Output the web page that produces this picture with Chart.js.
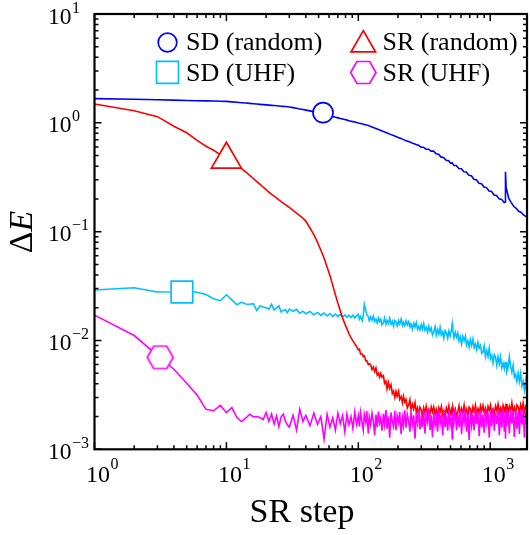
<!DOCTYPE html>
<html><head><meta charset="utf-8">
<script src="https://cdn.jsdelivr.net/npm/chart.js@4.4.1/dist/chart.umd.min.js"></script>
<style>html,body{margin:0;padding:0;background:#fff;overflow:hidden}canvas{display:block}</style>
</head><body>
<canvas id="c" width="530" height="535"></canvas>
<script>
// ---- data ----
// SR steps sampled for the smooth SD (random) curve
const sdSteps = [
  1,2,3,4,5,6,7,8,9,10,
  11,12,13,14,15,16,17,18,19,20,
  21,22,23,24,25,26,27,28,29,30,
  32,34,36,38,40,43,46,49,52,55,
  58,61,64,67,70,73,76,79,82,85,
  88,91,94,97,100,104,108,111,115,119,
  124,130,136,142,148,155,162,169,177,185,
  193,202,211,220,230,240,251,262,274,286,
  299,312,326,341,356,372,389,406,424,443,
  463,484,500,515,530,553,578,604,631,659,
  689,720,752,786,821,858,897,937,979,1023,
  1069,1117,1167,1220,1275,1300,1305,1320,1380,1440,
  1505,1573,1644,1718,1795,1900
];
const sdRandom = [
  1.67,1.645,1.628,1.615,1.605,1.597,1.59,1.585,1.58,1.575,
  1.559,1.545,1.531,1.519,1.508,1.498,1.488,1.479,1.470,1.462,
  1.455,1.448,1.441,1.434,1.428,1.422,1.416,1.411,1.405,1.400,
  1.379,1.360,1.341,1.325,1.309,1.287,1.267,1.248,1.231,1.211,
  1.186,1.163,1.142,1.125,1.110,1.096,1.083,1.071,1.059,1.047,
  1.036,1.026,1.016,1.007,0.997,0.986,0.975,0.967,0.956,0.945,
  0.926,0.905,0.886,0.867,0.850,0.831,0.814,0.797,0.779,0.763,
  0.747,0.731,0.716,0.701,0.686,0.672,0.658,0.644,0.631,0.622,
  0.598,0.597,0.573,0.572,0.549,0.550,0.520,0.514,0.484,0.481,
  0.452,0.449,0.426,0.428,0.406,0.405,0.380,0.379,0.355,0.354,
  0.329,0.326,0.303,0.300,0.278,0.276,0.257,0.254,0.236,0.234,
  0.217,0.215,0.200,0.198,0.185,0.187,0.355,0.255,0.203,0.186,
  0.171,0.164,0.154,0.150,0.142,0.136
];
// SR steps sampled for the three noisy curves
const steps = [
  1,2,3,4,5,6,7,8,9,10,
  11,12,13,14,15,16,17,18,19,20,
  21,22,23,24,25,26,27,28,29,30,
  32,34,36,38,40,43,46,49,52,55,
  58,61,64,67,70,73,76,79,82,85,
  88,91,94,97,
  100,102,104,107,109,111,114,116,119,121,
  124,127,130,133,136,139,142,145,148,151,
  155,158,162,165,169,173,177,181,185,189,
  193,197,202,206,211,216,220,225,230,235,
  241,246,251,257,263,269,275,281,287,293,
  300,306,313,320,327,335,342,350,357,365,
  373,382,390,399,408,417,426,436,445,455,
  465,476,486,497,508,515,520,531,543,555,
  568,580,593,606,620,634,648,662,677,692,
  707,723,739,755,772,789,807,825,843,862,
  881,900,920,941,962,983,1005,1027,1050,1073,
  1097,1121,1146,1172,1198,1224,1251,1279,1300,1305,
  1320,1336,1366,1396,1427,1459,1491,1524,1558,1593,
  1628,1664,1701,1739,1777,1817,1857,1900
];
const srRandom = [
  1.49,1.29,1.14,0.93,0.81,0.69,0.61,0.56,0.510,0.468,
  0.434,0.404,0.380,0.354,0.329,0.308,0.288,0.272,0.256,0.243,
  0.231,0.220,0.212,0.204,0.196,0.189,0.183,0.177,0.172,0.167,
  0.157,0.148,0.140,0.133,0.125,0.108,0.094,0.080,0.0675,0.0573,
  0.0472,0.0393,0.0321,0.0263,0.0220,0.0188,0.0161,0.0142,0.0128,0.0115,
  0.0106,0.0099,0.0093,0.0088,
  0.0082,0.0083,0.0075,0.0075,0.0071,0.0072,0.0065,0.0065,0.0060,0.0061,
  0.0060,0.0054,0.0057,0.0052,0.0056,0.0048,0.0050,0.0046,0.0050,0.0046,
  0.00475,0.00404,0.00422,0.0036,0.00413,0.00363,0.00392,0.00326,0.00343,0.0030,
  0.00341,0.00307,0.00341,0.00287,0.00306,0.00267,0.00308,0.00272,0.00287,0.0024,
  0.00257,0.00286,0.00231,0.0026,0.00234,0.00269,0.00221,0.0024,0.00205,0.00244,
  0.0023,0.00203,0.00241,0.00216,0.00249,0.00207,0.00232,0.00212,0.00245,0.00221,
  0.00245,0.00209,0.00232,0.0020,0.00241,0.0022,0.00248,0.00207,0.00227,0.00203,
  0.0024,0.00217,0.00251,0.0021,0.00231,0.00206,0.00244,0.00219,0.00235,0.00199,
  0.00221,0.00251,0.00207,0.00237,0.00214,0.00255,0.00212,0.00233,0.00203,0.00244,
  0.00235,0.00207,0.00246,0.00221,0.00255,0.00212,0.00237,0.00216,0.00251,0.00225,
  0.00253,0.00216,0.00239,0.00206,0.00248,0.00227,0.00255,0.00213,0.00234,0.00209,
  0.00249,0.00226,0.00261,0.00219,0.0024,0.00214,0.00254,0.00228,0.00244,0.00207,
  0.00231,0.00262,0.00217,0.00248,0.00224,0.00267,0.00221,0.00243,0.00212,0.00255,
  0.00245,0.00216,0.00257,0.0023,0.00266,0.00221,0.00247,0.00226
];
const sdUHF = [
  0.0291,0.0305,0.0279,0.0280,0.0285,0.0277,0.0264,0.0242,0.0232,0.0263,
  0.0236,0.0213,0.0224,0.0216,0.0215,0.0218,0.0189,0.0208,0.0203,0.0200,
  0.0194,0.0215,0.0191,0.0199,0.0208,0.0183,0.0189,0.0192,0.0180,0.0194,
  0.0185,0.0193,0.0178,0.0186,0.0176,0.0185,0.0172,0.0181,0.0170,0.0179,
  0.0168,0.0177,0.0166,0.0175,0.0166,0.0174,0.0164,0.0172,0.0163,0.0171,
  0.0162,0.0171,0.0161,0.0169,
  0.0174,0.0157,0.0166,0.0152,0.0170,0.0215,0.0188,0.0172,0.0166,0.0152,
  0.0165,0.0153,0.0168,0.0150,0.0157,0.0145,0.0161,0.0149,0.0157,0.0139,
  0.0146,0.0161,0.0141,0.0153,0.0143,0.0160,0.0141,0.0150,0.0135,0.0153,
  0.0149,0.0136,0.0152,0.0141,0.0157,0.0137,0.0147,0.0137,0.0152,0.0139,
  0.0149,0.0133,0.0142,0.0127,0.0144,0.0133,0.0146,0.0127,0.0135,0.0125,
  0.0140,0.0127,0.0143,0.0124,0.0132,0.0119,0.0135,0.0122,0.0130,0.0112,
  0.0120,0.0134,0.0112,0.0126,0.0114,0.0132,0.0112,0.0120,0.0105,0.0123,
  0.0118,0.0105,0.0122,0.0110,0.0125,0.0142,0.0124,0.0106,0.0119,0.0107,
  0.0117,0.0099,0.0108,0.0093,0.0109,0.0099,0.0110,0.0091,0.0099,0.0087,
  0.0102,0.0090,0.0103,0.0086,0.0093,0.0082,0.0096,0.0085,0.0090,0.0076,
  0.0078,0.0089,0.0071,0.0081,0.0071,0.0085,0.0068,0.0073,0.0062,0.0074,
  0.0070,0.0059,0.0071,0.0061,0.0071,0.0056,0.0062,0.0055,0.0064,0.0056,
  0.0063,0.0052,0.0057,0.0071,0.0058,0.0051,0.0059,0.0046,0.0049,0.0042,
  0.0050,0.0042,0.0050,0.0038,0.0042,0.0035,0.0043,0.0031
];
const srUHF = [
  0.0171,0.0111,0.0073,0.00544,0.00404,0.00315,0.00233,0.00226,0.00253,0.00217,
  0.00242,0.00196,0.00180,0.00193,0.00210,0.00199,0.00200,0.00196,0.00188,0.00218,
  0.00181,0.00211,0.00171,0.00203,0.00162,0.00199,0.00210,0.00181,0.00168,0.00160,
  0.00205,0.00150,0.00233,0.00180,0.00205,0.00165,0.00215,0.00170,0.00200,0.00124,
  0.00210,0.00160,0.00195,0.00150,0.00215,0.00172,0.00205,0.00145,0.00210,0.00168,
  0.00200,0.00155,0.00220,0.00170,
  0.00205,0.00162,0.00218,0.00172,0.00150,0.00210,0.00178,0.00225,0.00140,0.00198,
  0.00168,0.00215,0.00182,0.00135,0.00208,0.00160,0.00222,0.00175,0.00195,0.00148,
  0.00212,0.00170,0.00230,0.00155,0.00200,0.00128,0.00218,0.00180,0.00162,0.00226,
  0.00150,0.00205,0.00175,0.00220,0.00138,0.00195,0.00165,0.00228,0.00158,0.00210,
  0.00180,0.00145,0.00222,0.00168,0.00205,0.00125,0.00215,0.00175,0.00232,0.00152,
  0.00198,0.00160,0.00225,0.00140,0.00210,0.00178,0.00232,0.00150,0.00205,0.00130,
  0.00220,0.00165,0.00195,0.00145,0.00228,0.00172,0.00210,0.00135,0.00225,0.00160,
  0.00205,0.00148,0.00230,0.00168,0.00200,0.00125,0.00222,0.00178,0.00235,0.00150,
  0.00212,0.00160,0.00228,0.00138,0.00205,0.00175,0.00232,0.00145,0.00218,0.00122,
  0.00225,0.00165,0.00208,0.00150,0.00235,0.00170,0.00215,0.00132,0.00228,0.00158,
  0.00210,0.00142,0.00232,0.00175,0.00218,0.00128,0.00225,0.00162,0.00238,0.00148,
  0.00215,0.00170,0.00230,0.00135,0.00222,0.00158,0.00236,0.00145,0.00212,0.00125,
  0.00228,0.00165,0.00218,0.00140,0.00235,0.00172,0.00225,0.00130,0.00232,0.00155,
  0.00220,0.00138,0.00235,0.00168,0.00228,0.00128,0.00222,0.00160
];
const seriesNames = ['SD (random)', 'SR (random)', 'SD (UHF)', 'SR (UHF)'];
const markerSteps  = [54, 10, 4.6, 3.15];
const markerValues = [1.24, 0.46, 0.0279, 0.0070];
const xTickExps = [0, 1, 2, 3];
const yTickExps = [-3, -2, -1, 0, 1];

// ---- styles ----
const COLORS = ['#0000ff', '#ff0000', '#00bfff', '#ff00ff'];
const FONT = '"Liberation Serif", "Times New Roman", serif';

function hexImage(r, color, lw) {
  const w = Math.ceil(2 * r + 2 * lw), h = Math.ceil(2 * r * 0.866 + 2 * lw);
  const cv = document.createElement('canvas'); cv.width = w; cv.height = h;
  const g = cv.getContext('2d');
  hexPath(g, w / 2, h / 2, r);
  g.fillStyle = '#fff'; g.fill();
  g.strokeStyle = color; g.lineWidth = lw; g.stroke();
  return cv;
}
function hexPath(g, cx, cy, r) {
  g.beginPath();
  for (let i = 0; i < 6; i++) {
    const a = i * Math.PI / 3, px = cx + r * Math.cos(a), py = cy + r * Math.sin(a);
    if (i) g.lineTo(px, py); else g.moveTo(px, py);
  }
  g.closePath();
}

const pts = (xs, vals) => xs.map((s, i) => ({ x: s, y: vals[i] }));
const lineDs = (i, xs, vals, order) => ({
  label: seriesNames[i], data: pts(xs, vals), borderColor: COLORS[i], borderWidth: 1.6,
  pointRadius: 0, pointHoverRadius: 0, fill: false, tension: 0, order: order
});
const markDs = (i, style, radius) => ({
  label: seriesNames[i] + ' marker', data: [{ x: markerSteps[i], y: markerValues[i] }],
  showLine: false, pointStyle: style, pointRadius: radius, pointHoverRadius: radius,
  pointBackgroundColor: '#fff', pointBorderColor: COLORS[i], pointBorderWidth: 1.7, order: 0
});

function drawPow(c, exp, x, y, big, small, raise) {
  c.font = big + 'px ' + FONT;
  c.textAlign = 'left'; c.textBaseline = 'alphabetic';
  c.fillText('10', x, y);
  const w = c.measureText('10').width;
  c.font = small + 'px ' + FONT;
  c.fillText(exp < 0 ? '\u2212' + (-exp) : String(exp), x + w + 0.5, y - raise);
}

const frame = {
  id: 'frame',
  beforeDraw(chart) {
    const c = chart.ctx; c.save(); c.fillStyle = '#fff'; c.fillRect(0, 0, chart.width, chart.height); c.restore();
  },
  afterDraw(chart) {
    const c = chart.ctx, a = chart.chartArea, xs = chart.scales.x, ys = chart.scales.y;
    c.save();
    c.strokeStyle = '#000';
    c.lineWidth = 1.5;
    c.beginPath();
    for (let k = 0; k <= 3; k++) for (let m = 1; m <= 9; m++) {
      const v = m * Math.pow(10, k); if (v > xs.max) break;
      const px = xs.getPixelForValue(v), len = m === 1 ? 7 : 4;
      c.moveTo(px, a.bottom); c.lineTo(px, a.bottom - len);
      c.moveTo(px, a.top); c.lineTo(px, a.top + len);
    }
    for (let k = -3; k <= 0; k++) for (let m = 1; m <= 9; m++) {
      const v = m * Math.pow(10, k);
      const py = ys.getPixelForValue(v), len = m === 1 ? 7 : 4;
      c.moveTo(a.left, py); c.lineTo(a.left + len, py);
      c.moveTo(a.right, py); c.lineTo(a.right - len, py);
    }
    c.stroke();
    c.lineWidth = 2.2;
    c.strokeRect(a.left, a.top, a.right - a.left, a.bottom - a.top);
    c.fillStyle = '#000';
    xTickExps.forEach(e => drawPow(c, e, xs.getPixelForValue(Math.pow(10, e)) - 8.5, a.bottom + 32.5, 24, 16, 12.5));
    yTickExps.forEach(e => drawPow(c, e, 48, ys.getPixelForValue(Math.pow(10, e)) + 9.5, 23.5, 16, 11));
    c.font = '34px ' + FONT; c.textAlign = 'center'; c.textBaseline = 'alphabetic';
    c.fillText('SR step', 302, 522);
    c.save();
    c.translate(31.5, 232); c.rotate(-Math.PI / 2);
    c.font = '34px ' + FONT; const wD = c.measureText('\u0394').width;
    c.font = 'italic 34px ' + FONT; const wE = c.measureText('E').width;
    const x0 = -(wD + wE) / 2;
    c.textAlign = 'left';
    c.font = '34px ' + FONT; c.fillText('\u0394', x0, 0);
    c.font = 'italic 34px ' + FONT; c.fillText('E', x0 + wD, 0);
    c.restore();
    // legend
    c.lineWidth = 1.7; c.fillStyle = '#fff';
    c.strokeStyle = COLORS[0]; c.beginPath(); c.arc(167.5, 42.5, 9.3, 0, Math.PI * 2); c.fill(); c.stroke();
    c.strokeStyle = COLORS[1]; c.beginPath();
    const tr = 14.2, tx = 363.3, ty = 41.3 + 14.2 * 0.25;
    for (let i = 0; i < 3; i++) {
      const ang = i * 2 * Math.PI / 3;
      const px = tx + Math.sin(ang) * tr, py = ty - Math.cos(ang) * tr;
      if (i) c.lineTo(px, py); else c.moveTo(px, py);
    }
    c.closePath(); c.fill(); c.stroke();
    c.strokeStyle = COLORS[2]; c.beginPath(); c.rect(167.5 - 11, 72.3 - 11, 22, 22); c.fill(); c.stroke();
    c.strokeStyle = COLORS[3]; hexPath(c, 363.3, 72.5, 12.7); c.fill(); c.stroke();
    c.fillStyle = '#000'; c.font = '26px ' + FONT; c.textAlign = 'left'; c.textBaseline = 'alphabetic';
    c.fillText(seriesNames[0], 186, 50);
    c.fillText(seriesNames[1], 382.5, 50);
    c.fillText(seriesNames[2], 186, 81);
    c.fillText(seriesNames[3], 382.5, 81);
    c.restore();
  }
};

new Chart(document.getElementById('c'), {
  type: 'line',
  data: {
    datasets: [
      lineDs(0, sdSteps, sdRandom, 4),
      lineDs(2, steps, sdUHF, 3),
      lineDs(1, steps, srRandom, 2),
      lineDs(3, steps, srUHF, 1),
      markDs(0, 'circle', 10),
      markDs(1, 'triangle', 17.3),
      markDs(2, 'rect', 15.3),
      markDs(3, hexImage(13, COLORS[3], 1.7), 13)
    ]
  },
  options: {
    responsive: false, animation: false, devicePixelRatio: 1, events: [],
    layout: { autoPadding: false, padding: { left: 94.5, right: 3, top: 14, bottom: 85.7 } },
    plugins: { legend: { display: false }, tooltip: { enabled: false } },
    scales: {
      x: { type: 'logarithmic', min: 1, max: 1900, display: false },
      y: { type: 'logarithmic', min: 0.001, max: 10, display: false }
    }
  },
  plugins: [frame]
});
</script>
</body></html>
